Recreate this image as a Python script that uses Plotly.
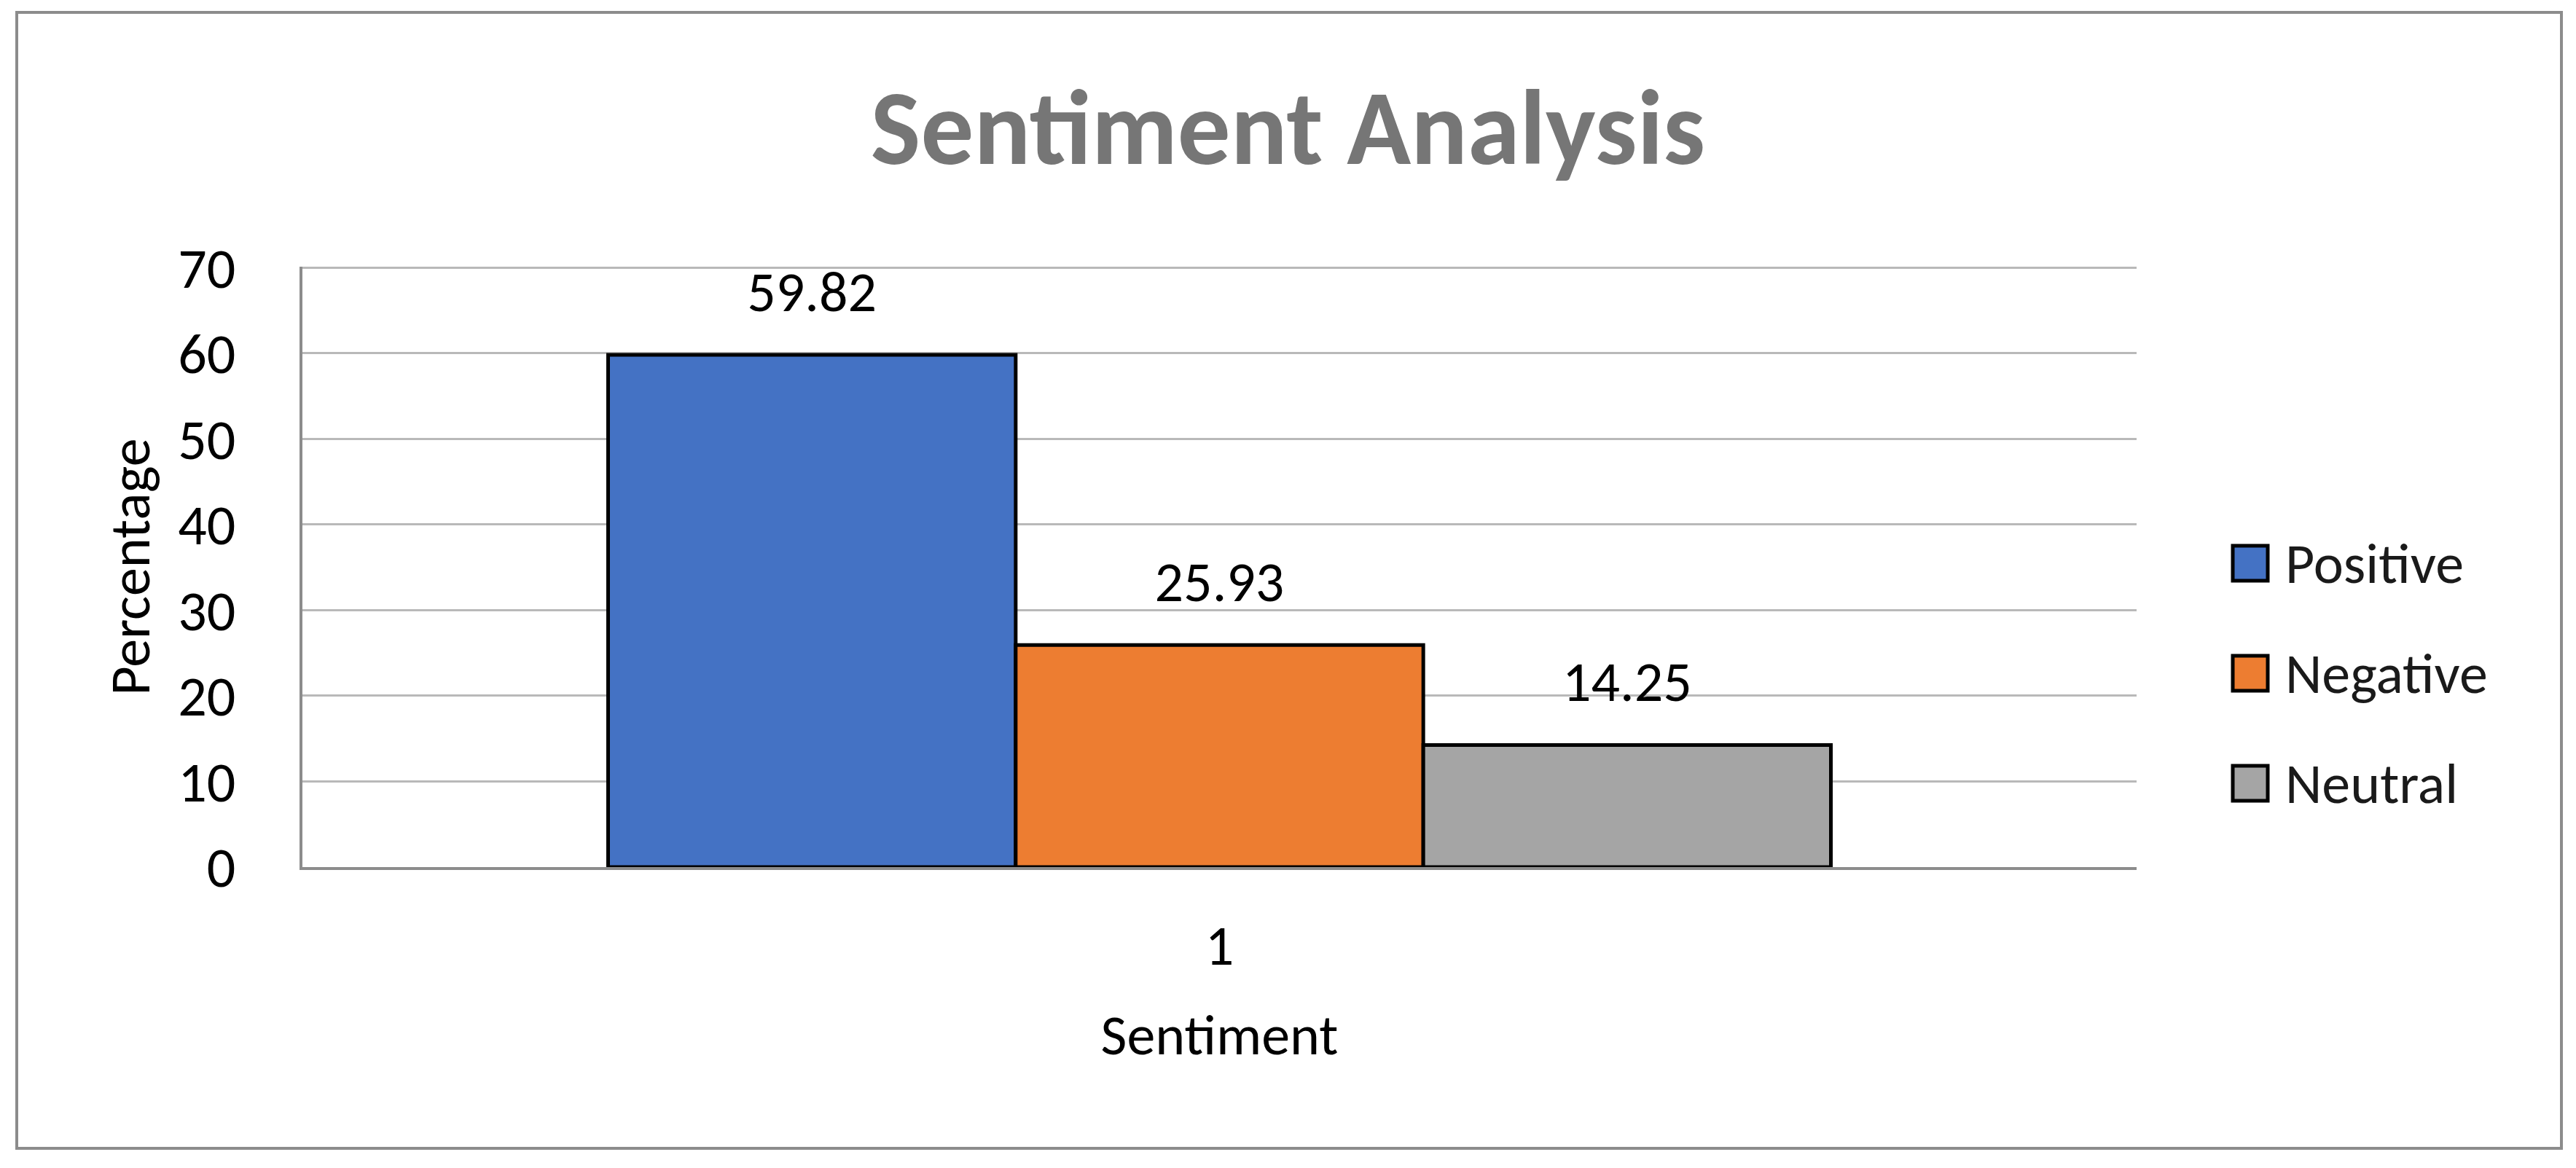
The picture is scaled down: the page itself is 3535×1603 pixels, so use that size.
import plotly.graph_objects as go

# ---- data ----
categories = ["1"]
series_names = ["Positive", "Negative", "Neutral"]
positive = [59.82]
negative = [25.93]
neutral = [14.25]
series_values = [positive, negative, neutral]
colors = ["#4472C4", "#ED7D31", "#A5A5A5"]
y_ticks = [0, 10, 20, 30, 40, 50, 60, 70]

FONT = "Calibri, Carlito, Lato, sans-serif"
FS = 78
W, H = 3535, 1603
ML, MR, MT, MB = 415, 603, 366, 413
PW = W - ML - MR
PH = H - MT - MB


def px_to_paper_x(px):
    return (px - ML) / PW


def px_to_paper_y(py):
    return (H - MB - py) / PH


fig = go.Figure()
for name, vals, col in zip(series_names, series_values, colors):
    fig.add_trace(go.Bar(
        x=categories, y=vals, name=name,
        marker=dict(color=col, line=dict(color="#000000", width=5)),
        offsetgroup=name, alignmentgroup="g",
        showlegend=False, hoverinfo="skip",
    ))
# value labels aligned to grouped bars
for name, vals in zip(series_names, series_values):
    fig.add_trace(go.Scatter(
        x=categories, y=vals, mode="markers+text",
        text=[f"{v:.2f}" for v in vals], textposition="top center",
        textfont=dict(family=FONT, size=FS, color="#000000"),
        marker=dict(size=64, opacity=0),
        offsetgroup=name, alignmentgroup="g",
        showlegend=False, hoverinfo="skip", cliponaxis=False,
    ))

shapes = [dict(type="rect", xref="paper", yref="paper",
               x0=px_to_paper_x(23), x1=px_to_paper_x(3515),
               y0=px_to_paper_y(1576), y1=px_to_paper_y(17),
               line=dict(color="#8c8c8c", width=4), fillcolor="rgba(0,0,0,0)",
               layer="below")]
annotations = []
for i, (name, col) in enumerate(zip(series_names, colors)):
    cy = 773 + i * 151
    shapes.append(dict(type="rect", xref="paper", yref="paper",
                       x0=px_to_paper_x(3064), x1=px_to_paper_x(3112),
                       y0=px_to_paper_y(cy + 24), y1=px_to_paper_y(cy - 24),
                       line=dict(color="#000000", width=5), fillcolor=col))
    annotations.append(dict(xref="paper", yref="paper",
                            x=px_to_paper_x(3134), y=px_to_paper_y(cy),
                            xanchor="left", yanchor="middle", showarrow=False,
                            text=name, font=dict(family=FONT, size=FS, color="#1a1a1a")))

fig.update_layout(
    width=W, height=H,
    margin=dict(l=ML, r=MR, t=MT, b=MB, autoexpand=False),
    paper_bgcolor="white", plot_bgcolor="white",
    barmode="group", bargap=1/3, bargroupgap=0,
    scattermode="group", scattergap=1/3,
    title=dict(text="Sentiment Analysis", x=0.5, xanchor="center",
               y=1 - 174 / H, yanchor="middle",
               font=dict(family=FONT, size=145, color="#767676", weight="bold")),
    font=dict(family=FONT, size=FS, color="#000000"),
    shapes=shapes, annotations=annotations,
    showlegend=False,
)
fig.update_yaxes(
    range=[0, 70.12], tickvals=y_ticks, showgrid=True, gridcolor="#b9b9b9", gridwidth=3,
    zeroline=False, showline=True, linecolor="#8c8c8c", linewidth=4,
    ticks="", ticklabelstandoff=72, tickfont=dict(family=FONT, size=FS, color="#000000"),
    title=dict(text="Percentage", standoff=14, font=dict(family=FONT, size=FS, color="#000000")),
)
fig.update_xaxes(
    type="category", showgrid=False, showline=True, linecolor="#8c8c8c", linewidth=4,
    ticks="", ticklabelstandoff=36, tickfont=dict(family=FONT, size=FS, color="#000000"),
    title=dict(text="Sentiment", standoff=50, font=dict(family=FONT, size=FS, color="#000000")),
)

fig.write_html("out.html", config={"displayModeBar": False},
               post_script="document.body.style.margin='0';document.body.style.overflow='hidden';")
